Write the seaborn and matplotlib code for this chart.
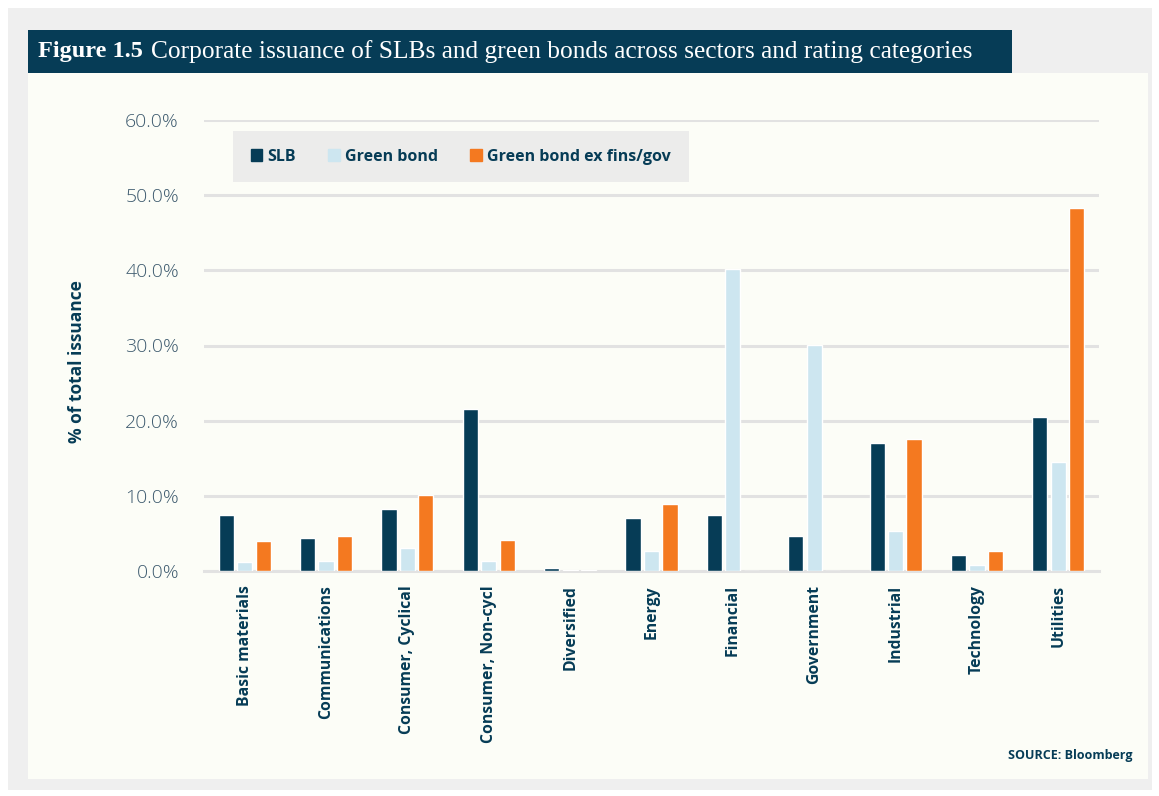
import matplotlib
matplotlib.use("Agg")
import matplotlib.pyplot as plt
import matplotlib.patches as mpatches
import seaborn as sns
import pandas as pd
from matplotlib.ticker import FuncFormatter

sectors = ["Basic materials", "Communications", "Consumer, Cyclical", "Consumer, Non-cycl",
           "Diversified", "Energy", "Financial", "Government", "Industrial", "Technology", "Utilities"]
series = ["SLB", "Green bond", "Green bond ex fins/gov"]
slb = [7.4, 4.4, 8.2, 21.5, 0.35, 7.0, 7.4, 4.6, 17.0, 2.1, 20.5]
green = [1.2, 1.3, 3.1, 1.3, 0.1, 2.7, 40.2, 30.1, 5.3, 0.8, 14.5]
green_ex = [4.0, 4.6, 10.1, 4.1, 0.1, 8.9, 0.0, 0.0, 17.5, 2.6, 48.3]
yticks = [0, 10, 20, 30, 40, 50, 60]

df = pd.DataFrame({
    "sector": sectors * 3,
    "series": [series[0]] * 11 + [series[1]] * 11 + [series[2]] * 11,
    "value": slb + green + green_ex,
})

navy = "#063c56"
palette = {"SLB": navy, "Green bond": "#cde6f0", "Green bond ex fins/gov": "#f47920"}

sns.set_theme(style="white")
plt.rcParams["font.family"] = ["Open Sans", "DejaVu Sans"]

W, H = 1159, 796
fig = plt.figure(figsize=(W / 100, H / 100), dpi=100, facecolor="white")

def rect(x0, y0, x1, y1, color, z=-10):
    fig.patches.append(mpatches.Rectangle((x0 / W, 1 - y1 / H), (x1 - x0) / W, (y1 - y0) / H,
                                          transform=fig.transFigure, facecolor=color,
                                          edgecolor="none", zorder=z))

rect(8, 8, 1152, 790, "#efefef", -12)
rect(28, 73, 1148, 779, "#fcfdf7", -11)
rect(28, 30, 1012, 73, navy, -11)

fig.text(38 / W, 1 - 52 / H, "Figure 1.5", color="white", fontsize=17.5,
         va="center", ha="left", family="Liberation Serif", fontweight="bold")
fig.text(151 / W, 1 - 52 / H, "Corporate issuance of SLBs and green bonds across sectors and rating categories",
         color="white", fontsize=18.3, va="center", ha="left", family="Liberation Serif")

ax = fig.add_axes([204 / W, 1 - 571 / H, (1099 - 204) / W, (571 - 120) / H])
ax.set_facecolor("none")
sns.barplot(data=df, x="sector", y="value", hue="series", palette=palette, order=sectors,
            hue_order=series, width=0.68, gap=0.18, ax=ax, legend=False, saturation=1)
for p in ax.patches:
    p.set_zorder(3)
ax.set_xlim(-0.5, 10.5)
ax.set_ylim(0, 60)
ax.set_yticks(yticks)
ax.yaxis.set_major_formatter(FuncFormatter(lambda v, p: f"{v:.1f}%"))
ax.grid(axis="y", color="#e2e2e2", linewidth=2.2)
ax.set_axisbelow(True)
for s in ["top", "right", "left"]:
    ax.spines[s].set_visible(False)
ax.spines["bottom"].set_color("#e2e2e2")
ax.spines["bottom"].set_linewidth(2.2)
ax.spines["bottom"].set_zorder(1)
ax.tick_params(axis="y", length=0, pad=18, labelsize=14, labelcolor="#3d5a6e")
ax.tick_params(axis="x", length=0, pad=10, labelsize=11.3, labelcolor=navy)
for lab in ax.get_yticklabels():
    lab.set_fontweight("light")
for lab in ax.get_xticklabels():
    lab.set_rotation(90)
    lab.set_fontweight("bold")
    lab.set_va("top")
ax.set_xlabel("")
ax.set_ylabel("")
fig.text(77 / W, 1 - 362 / H, "% of total issuance", rotation=90, color=navy, fontsize=12.5,
         fontweight="bold", ha="center", va="center")

handles = [mpatches.Patch(color=palette[s], label=s) for s in series]
leg = fig.legend(handles=handles, loc="upper left", bbox_to_anchor=(233 / W, 1 - 131 / H),
                 ncol=3, frameon=True, fancybox=False, handlelength=0.72, handleheight=0.72,
                 handletextpad=0.35, columnspacing=2.0, borderpad=1.1, borderaxespad=0,
                 prop={"weight": "bold", "size": 11.5})
leg.get_frame().set_facecolor("#e8e8e8")
leg.get_frame().set_edgecolor("none")
for txt in leg.get_texts():
    txt.set_color(navy)

fig.text(1133 / W, 1 - 756 / H, "SOURCE: Bloomberg", color=navy, fontsize=9,
         fontweight="bold", ha="right", va="center")

fig.savefig("out.png", dpi=100, facecolor="white")
